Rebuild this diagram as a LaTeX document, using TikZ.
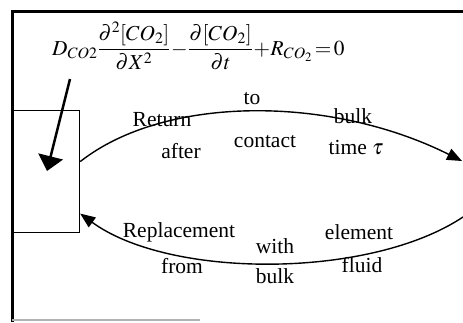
\documentclass[tikz,border=0pt]{standalone}
\usepackage{mathptmx}
\usepackage[no-math]{fontspec}
\setmainfont{Liberation Serif}
\usetikzlibrary{arrows.meta}
\begin{document}
\begin{tikzpicture}[x=1pt,y=-1pt,
  lbl/.style={inner sep=0pt, font=\fontsize{21.5}{24}\selectfont},
  flow/.style={line width=1.4pt, -{Triangle[length=15pt,width=12pt]}},
  frameline/.style={line width=3pt}]
\useasboundingbox (0,0) rectangle (463,322);
% frame
\draw[frameline] (12,322) -- (12,11) -- (463,11);
\draw[gray!60, line width=1.5pt] (12,320) -- (200,320);
% element box
\node[draw, line width=1.2pt, minimum width=67pt, minimum height=122pt, inner sep=0pt, anchor=north west] (elem) at (12,110) {};
% equation
\node[inner sep=0pt, anchor=base west, font=\fontsize{21.3}{24}\selectfont] (eq) at (52,55)
  {$\displaystyle D_{CO2}\frac{\partial^2[CO_2]}{\partial X^2}\!-\!\frac{\partial[CO_2]}{\partial t}\!+\!R_{CO_2}\!=\!0$};
\coordinate (eqtail) at (70,79);
\coordinate (tip) at (47,171);
\draw[line width=2.5pt, -{Triangle[length=15pt,width=25pt]}] (eqtail) -- (tip);
% flows
\coordinate (rtop) at (462,161);
\coordinate (rbot) at (463,217);
\draw[flow] ([yshift=10pt]elem.east) .. controls (165,95) and (330,95) .. (rtop);
\draw[flow] (rbot) .. controls (370,279) and (170,279) .. ([yshift=-42pt]elem.east);
% labels
\node[lbl] (l1) at (162,120) {Return};
\node[lbl] (l2) at (252,99) {to};
\node[lbl] (l3) at (353,116) {bulk};
\node[lbl] (l4) at (181,151) {after};
\node[lbl] (l5) at (265,142) {contact};
\node[lbl] (l6) at (356,148) {time $\tau$};
\node[lbl] (l7) at (179,232) {Replacement};
\node[lbl] (l8) at (182,266) {from};
\node[lbl] (l9) at (275,246) {with};
\node[lbl] (l10) at (275,276) {bulk};
\node[lbl] (l11) at (359,232) {element};
\node[lbl] (l12) at (362,265) {fluid};
\end{tikzpicture}
\end{document}
